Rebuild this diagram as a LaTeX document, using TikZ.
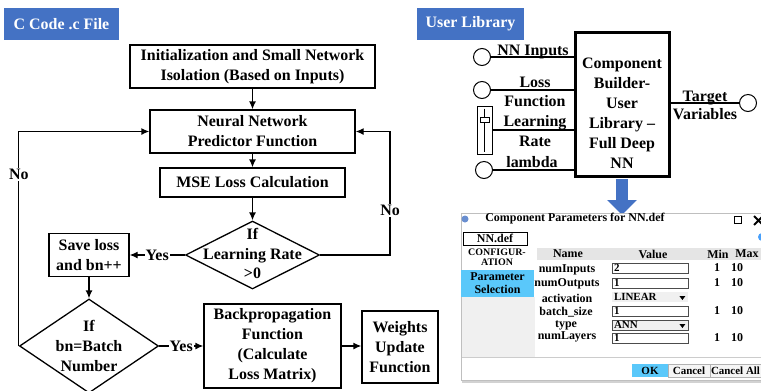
\documentclass[tikz,border=0pt]{standalone}
\usepackage{fontspec}
\setmainfont{Liberation Serif}
\usepackage{tikz}
\usepackage{xcolor}
\usetikzlibrary{arrows.meta, calc, shapes.geometric, positioning}

\definecolor{hdrblue}{RGB}{68,114,196}
\definecolor{selblue}{RGB}{90,200,250}

\begin{document}
\begin{tikzpicture}[x=1bp, y=-1bp, line width=1.3bp, >={Latex[length=8bp,width=7bp]},
    every node/.style={font=\fontsize{16}{20}\selectfont\bfseries},
    tag/.style={fill=hdrblue, text=white, minimum height=32bp, inner sep=0pt},
    proc/.style={draw, rectangle, align=center, inner sep=0pt},
    decision/.style={draw, diamond, inner sep=0pt},
    port/.style={draw, circle, minimum size=17bp, inner sep=0pt, line width=1bp},
    lbl/.style={fill=white, inner sep=1bp},
    dlg/.style={font=\fontsize{12}{13}\selectfont\bfseries, inner sep=0pt},
    field/.style={draw=gray!60!black, line width=0.8bp, fill=white, minimum height=10bp,
        text width=72bp, inner xsep=2bp, inner ysep=0pt, align=left, text height=7.5bp,
        text depth=1bp, font=\fontsize{11}{11}\selectfont\bfseries},
    drop/.style={field, draw=none, fill=gray!12},
    btn/.style={draw=gray!60, line width=0.8bp, fill=gray!8, minimum height=13bp, inner sep=0pt,
        font=\fontsize{11}{11}\selectfont\bfseries}]
    \useasboundingbox (0,0) rectangle (761,390);

    % flow chart of the C file
    \node[tag, minimum width=115bp] (ctag) at (61.5,24) {C Code .c File};
    \node[proc, minimum width=245bp, minimum height=43bp] (init) at (252.5,66.5) {Initialization and Small Network\\Isolation (Based on Inputs)};
    \node[proc, minimum width=205bp, minimum height=43bp] (nn) at (252.5,131.5) {Neural Network\\Predictor Function};
    \node[proc, minimum width=185bp, minimum height=29bp] (mse) at (252.5,182.5) {MSE Loss Calculation};
    \node[decision, minimum width=134bp, minimum height=68bp,
        label={[align=center, yshift=1.5bp]center:If\\Learning Rate\\>0}] (lr) at (252.5,255) {};
    \node[proc, minimum width=80bp, minimum height=43bp] (save) at (89,255) {Save loss\\and bn++};
    \node[decision, minimum width=139bp, minimum height=94bp,
        label={[align=center]center:If\\bn=Batch\\Number}] (bn) at (89,346) {};
    \node[proc, minimum width=137bp, minimum height=84bp] (bp) at (272.5,346) {Backpropagation\\Function\\(Calculate\\Loss Matrix)};
    \node[proc, minimum width=76bp, minimum height=72bp] (wu) at (400,347) {Weights\\Update\\Function};
    \coordinate (rt) at (390,255);

    \draw[->] (init.south) -- (nn.north);
    \draw[->] (nn.south) -- (mse.north);
    \draw[->] (mse.south) -- (lr.north);
    \draw[->] (lr.east) -- (rt) |- node[lbl, pos=0.18] (no1) {No} (nn.east);
    \draw[->] (lr.west) -- node[lbl] (yes1) {Yes} (save.east);
    \draw[->] (save.south) -- (bn.north);
    \draw[->] (bn.west) |- node[lbl, pos=0.4] (no2) {No} (nn.west);
    \draw[->] (bn.east) -- node[lbl] (yes2) {Yes} (bp.west);
    \draw[->] (bp.east) -- (bp.east -| wu.west);

    % user library block
    \node[tag, minimum width=107bp] (utag) at (470.5,24) {User Library};
    \node[proc, line width=3bp, minimum width=94bp, minimum height=144bp,
        label={[align=center, yshift=-9bp]center:Component\\Builder-\\User\\Library \textendash\\Full Deep\\NN}] (cb) at (622,104) {};
    \draw[hdrblue, line width=12bp, -{Triangle[width=29bp,length=15bp]}] ([yshift=-1.5bp]cb.south) -- ++(0,36);

    \node[port] (pin) at (482,57) {};
    \node[port] (ploss) at (482,90) {};
    \node[draw, line width=1bp, minimum width=15bp, minimum height=48bp, inner sep=0pt] (slider) at (484.5,130) {};
    \node[draw, line width=0.8bp, fill=white, minimum width=9bp, minimum height=5bp, inner sep=0pt] (knob) at (484.5,120) {};
    \node[port] (plam) at (484,170) {};
    \node[port] (pout) at (748,103) {};
    \draw[line width=0.8bp] ([yshift=-3bp]slider.north) -- (knob.north) (knob.south) -- ([yshift=3bp]slider.south);
    \draw (pin.east) -- (pin.east -| cb.west);
    \draw (ploss.east) -- (ploss.east -| cb.west);
    \draw (slider.east) -- (slider.east -| cb.west);
    \draw (plam.east) -- (plam.east -| cb.west);
    \draw (pout.west) -- (pout.west -| cb.east);

    \node (tin) at (533,52) {NN Inputs};
    \node[align=center, font=\fontsize{16}{19}\selectfont\bfseries] (tloss) at (535,91.5) {Loss\\Function};
    \node[align=center, font=\fontsize{16}{20}\selectfont\bfseries] (tlr) at (535,131.5) {Learning\\Rate};
    \node (tlam) at (532,162) {lambda};
    \node[align=center, font=\fontsize{16}{18}\selectfont\bfseries] (tout) at (705,105) {Target\\Variables};

    % parameter window
    \draw[gray!50, fill=white, line width=0.8bp] (461,213) rectangle (775,380);
    \draw[gray!35, line width=2bp] (462,381.5) -- (775,381.5);
    \fill[gray!12] (461.5,297) rectangle (535,357);
    \fill[gray!20] (537,248) rectangle (775,260);
    \draw[gray!40, line width=0.8bp] (461.5,357) -- (775,357);

    \node[circle, fill=hdrblue!80, minimum size=7bp, inner sep=0pt] (wicon) at (465,219) {};
    \node[dlg] (wtitle) at (575,219) {Component Parameters for NN.def};
    \node[draw, line width=0.8bp, minimum size=7bp, inner sep=0pt] (wmax) at (738,220) {};
    \draw[line width=2bp] (754,216) -- (763,225) (754,225) -- (763,216);
    \node[circle, fill=selblue!80!blue, minimum size=8bp, inner sep=0pt] (wdot) at (762,237) {};

    \node[dlg, draw, line width=0.8bp, fill=white, minimum width=64bp, minimum height=13bp] (tabnn) at (495,238.5) {NN.def};
    \node[align=center, inner sep=0pt, font=\fontsize{10}{10}\selectfont\bfseries] (tabcfg) at (497,257) {CONFIGUR-\\ATION};
    \node[dlg, fill=selblue, minimum width=73bp, minimum height=27bp, align=center] (tabsel) at (497.5,283.5) {Parameter\\Selection};

    \node[dlg] (hname) at (568,254) {Name};
    \node[dlg] (hval) at (653,254) {Value};
    \node[dlg] (hmin) at (718,254) {Min};
    \node[dlg] (hmax) at (747,254) {Max};

    \node[dlg] (n1) at (567,270) {numInputs};
    \node[dlg] (n2) at (567,284) {numOutputs};
    \node[dlg] (n3) at (567,298) {activation};
    \node[dlg] (n4) at (566,312) {batch\_size};
    \node[dlg] (n5) at (566,325) {type};
    \node[dlg] (n6) at (567,337) {numLayers};

    \node[field] (f1) at (650,268) {2};
    \node[field] (f2) at (650,283) {1};
    \node[drop] (f3) at (650,297) {LINEAR};
    \node[field] (f4) at (650,311) {1};
    \node[drop, draw=gray!60!black] (f5) at (650,325) {ANN};
    \node[field] (f6) at (650,338) {1};
    \fill ($(f3.east)+(-9,-1)$) -- ++(6,0) -- ++(-3,4) -- cycle;
    \fill ($(f5.east)+(-9,-1)$) -- ++(6,0) -- ++(-3,4) -- cycle;

    \node[dlg] (m1) at (717,268) {1};
    \node[dlg] (x1) at (737,268) {10};
    \node[dlg] (m2) at (717,283) {1};
    \node[dlg] (x2) at (737,283) {10};
    \node[dlg] (m4) at (717,311) {1};
    \node[dlg] (x4) at (737,311) {10};
    \node[dlg] (m6) at (717,338) {1};
    \node[dlg] (x6) at (737,338) {10};

    \node[btn, fill=selblue, draw=none, minimum width=36bp] (bok) at (650,370.5) {OK};
    \node[btn, minimum width=42bp] (bcan) at (689,370.5) {Cancel};
    \node[btn, minimum width=51bp] (ball) at (735.5,370.5) {Cancel All};
\end{tikzpicture}
\end{document}
